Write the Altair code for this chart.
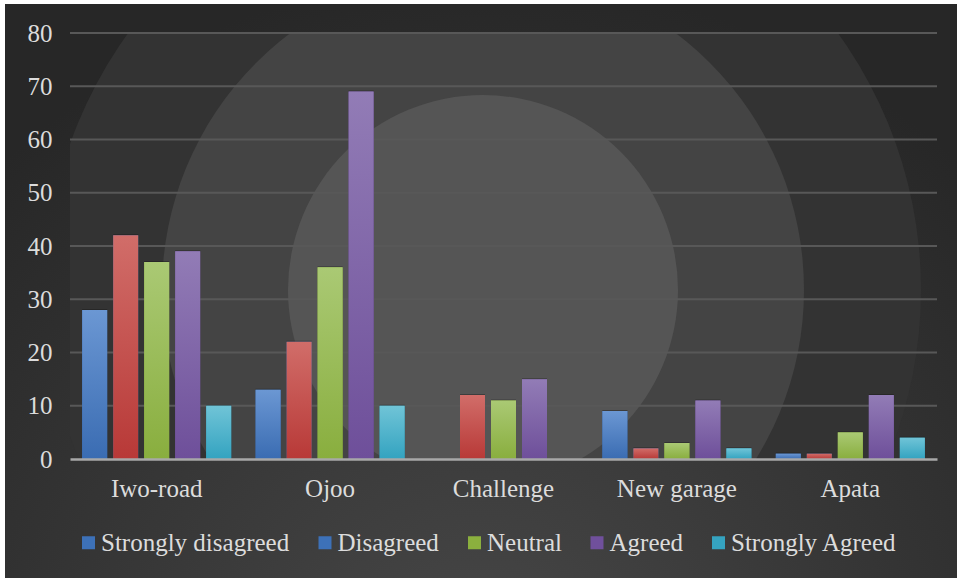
import altair as alt
import pandas as pd

# Survey responses per location
locations = ["Iwo-road", "Ojoo", "Challenge", "New garage", "Apata"]
series = ["Strongly disagreed", "Disagreed", "Neutral", "Agreed", "Strongly Agreed"]
strongly_disagreed = [28, 13, 0, 9, 1]
disagreed = [42, 22, 12, 2, 1]
neutral = [37, 36, 11, 3, 5]
agreed = [39, 69, 15, 11, 12]
strongly_agreed = [10, 10, 0, 2, 4]
y_ticks = [0, 10, 20, 30, 40, 50, 60, 70, 80]

values = [strongly_disagreed, disagreed, neutral, agreed, strongly_agreed]
rows = []
for s, vals in zip(series, values):
    for loc, v in zip(locations, vals):
        rows.append({"Location": loc, "Series": s, "Count": v})
df = pd.DataFrame(rows)
ticks_df = pd.DataFrame({"v": y_ticks[1:]})

# Legend swatch colours and per-series bar gradients (top, bottom)
legend_colors = ["#3d71b8", "#3d71b8", "#8bb03e", "#70509c", "#35a3c0"]
bar_gradients = {
    "Strongly disagreed": ("#6b97d3", "#3a6cb2"),
    "Disagreed": ("#d16d69", "#b83937"),
    "Neutral": ("#aac974", "#89ae3e"),
    "Agreed": ("#927cb6", "#6e4f9a"),
    "Strongly Agreed": ("#70c4d7", "#33a3c0"),
}

W, H = 867, 426
FONT = "Liberation Serif"

x_enc = alt.X("Location:N", sort=locations, title=None,
              scale=alt.Scale(paddingInner=0.106, paddingOuter=0.053),
              axis=alt.Axis(labelAngle=0, labelFontSize=25, labelFont=FONT,
                            labelColor="#dcdcdc", ticks=False, tickSize=0,
                            labelPadding=37, labelBaseline="alphabetic",
                            domainColor="#a8a8a8", domainWidth=2.5, grid=False,
                            zindex=1))
y_scale = alt.Scale(domain=[0, 80], nice=False)
y_enc = alt.Y("Count:Q", title=None, scale=y_scale,
              axis=alt.Axis(values=y_ticks, labelFontSize=25, labelFont=FONT,
                            labelColor="#dcdcdc", ticks=False, tickSize=0,
                            labelPadding=18, domain=False, grid=False, zindex=1))
xo_enc = alt.XOffset("Series:N", sort=series,
                     scale=alt.Scale(paddingInner=0.194, paddingOuter=0.097))

one = alt.Data(values=[{"k": 0}])

# Chart frame: white edge plus dark radial backdrop behind everything
frame = alt.Chart(one).mark_rect(
    color=alt.RadialGradient(
        gradient="radial", x1=0.5, y1=0.92, x2=0.5, y2=0.92, r1=0, r2=0.75,
        stops=[alt.GradientStop(offset=0, color="#484848"),
               alt.GradientStop(offset=1, color="#272727")])
).encode(x=alt.value(-65), x2=alt.value(W + 20), y=alt.value(-29), y2=alt.value(H + 119))

# Concentric rings inside the plot area
cx, cy = 413, 257
rings = []
for r, c in [(438, "#333333"), (321, "#444444"), (195, "#555555")]:
    rings.append(
        alt.Chart(one).mark_point(shape="circle", filled=True, opacity=1,
                                  color=c, size=(2 * r) ** 2, clip=True)
        .encode(x=alt.value(cx), y=alt.value(cy))
    )

# Horizontal gridlines
grid = alt.Chart(ticks_df).mark_rule(color="#585858", strokeWidth=1.8).encode(
    y=alt.Y("v:Q", scale=y_scale), x=alt.value(0), x2=alt.value(W))

# Soft drop shadow to the left of each bar
shadow = alt.Chart(df).mark_bar(color="#121212", opacity=0.35, xOffset=-3, yOffset=-1).encode(
    x=x_enc, y=y_enc, xOffset=xo_enc)

base = alt.Chart(df).mark_bar().encode(
    x=alt.X("Location:N", sort=locations), y="Count:Q", xOffset=xo_enc,
    color=alt.Color("Series:N", sort=series,
                    scale=alt.Scale(domain=series, range=legend_colors),
                    legend=alt.Legend(title=None, orient="none", direction="horizontal",
                                      legendX=6, legendY=497, padding=0,
                                      symbolType="square",
                                      symbolSize=169, symbolStrokeWidth=0,
                                      labelFont=FONT, labelFontSize=25,
                                      labelColor="#dcdcdc", labelOffset=0,
                                      columnPadding=22.5, labelLimit=400)))

grad_layers = []
for s in series:
    top, bottom = bar_gradients[s]
    grad_layers.append(
        alt.Chart(df).transform_filter(alt.datum.Series == s).mark_bar(
            color=alt.LinearGradient(
                gradient="linear", x1=0, x2=0, y1=0, y2=1,
                stops=[alt.GradientStop(offset=0, color=top),
                       alt.GradientStop(offset=1, color=bottom)])
        ).encode(x=alt.X("Location:N", sort=locations), y="Count:Q", xOffset=xo_enc)
    )

chart = alt.layer(frame, *rings, grid, shadow, base, *grad_layers).properties(
    width=W, height=H,
    autosize=alt.AutoSizeParams(type="none"),
    padding={"left": 70, "top": 33, "right": 20, "bottom": 119},
    background="white",
).configure_view(fill="#222222", stroke=None)

chart.save("out.html", embed_options={"renderer": "svg", "actions": False})
